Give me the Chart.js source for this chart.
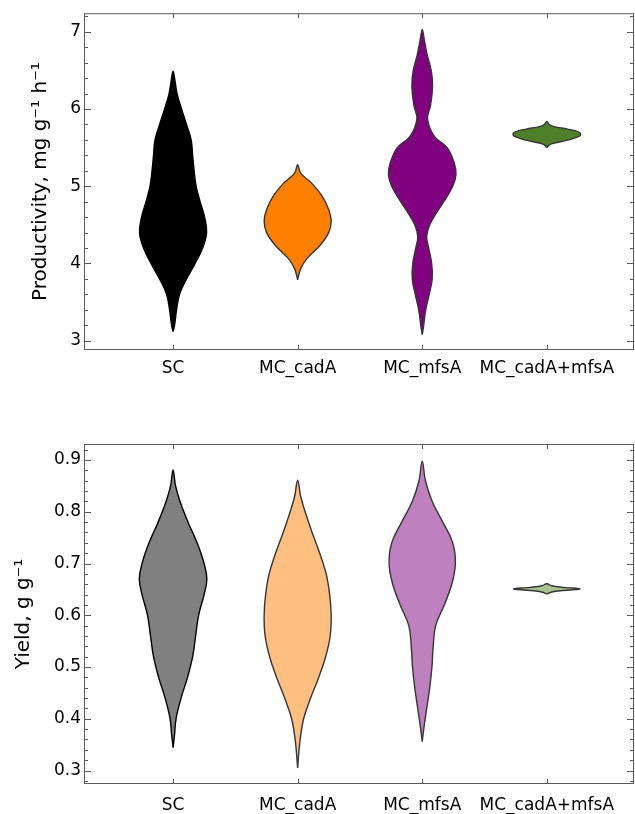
<!DOCTYPE html>
<html>
<head>
<meta charset="utf-8">
<script src="https://cdn.jsdelivr.net/npm/chart.js@4.4.1/dist/chart.umd.min.js"></script>
<style>
  body { margin: 0; background: #fff; }
  .panel { position: absolute; left: 0; width: 635px; }
</style>
</head>
<body>
<div class="panel" style="top:0;height:400px"><canvas id="prodChart"></canvas></div>
<div class="panel" style="top:400px;height:414px"><canvas id="yieldChart"></canvas></div>
<script>
var categories = ["SC", "MC_cadA", "MC_mfsA", "MC_cadA+mfsA"];

// violin outlines: value levels and half widths (category units)
var prodLevels = [
    [3.12, 3.2, 3.4, 3.6, 3.8, 4.0, 4.2, 4.4, 4.6, 4.8, 5.0, 5.2, 5.4, 5.6, 5.8, 6.0, 6.2, 6.4, 6.49],
    [3.79, 3.93, 4.06, 4.23, 4.40, 4.55, 4.70, 4.87, 5.04, 5.17, 5.28],
    [3.08, 3.2, 3.4, 3.6, 3.8, 4.0, 4.2, 4.35, 4.5, 4.65, 4.8, 5.0, 5.15, 5.3, 5.5, 5.65, 5.87, 6.05, 6.3, 6.5, 6.7, 6.9, 7.03],
    [5.50, 5.535, 5.56, 5.59, 5.62, 5.65, 5.67, 5.695, 5.72, 5.75, 5.775, 5.80, 5.84]
];
var prodWidths = [
    [0, 0.012, 0.028, 0.052, 0.108, 0.177, 0.237, 0.269, 0.253, 0.217, 0.185, 0.169, 0.157, 0.145, 0.108, 0.068, 0.032, 0.012, 0],
    [0, 0.024, 0.072, 0.177, 0.249, 0.269, 0.249, 0.197, 0.112, 0.024, 0],
    [0, 0.012, 0.028, 0.056, 0.08, 0.076, 0.052, 0.036, 0.06, 0.112, 0.173, 0.245, 0.271, 0.257, 0.2, 0.096, 0.043, 0.067, 0.083, 0.072, 0.04, 0.016, 0],
    [0, 0.02, 0.06, 0.15, 0.217, 0.262, 0.271, 0.262, 0.225, 0.13, 0.05, 0.02, 0]
];
var yieldLevels = [
    [0.344, 0.37, 0.40, 0.44, 0.48, 0.52, 0.56, 0.60, 0.64, 0.67, 0.70, 0.74, 0.78, 0.82, 0.85, 0.881],
    [0.305, 0.33, 0.36, 0.40, 0.44, 0.48, 0.52, 0.56, 0.60, 0.64, 0.68, 0.72, 0.76, 0.80, 0.83, 0.861],
    [0.356, 0.38, 0.42, 0.46, 0.50, 0.54, 0.58, 0.62, 0.66, 0.70, 0.74, 0.78, 0.82, 0.86, 0.898],
    [0.641, 0.645, 0.648, 0.651, 0.654, 0.657, 0.661]
];
var yieldWidths = [
    [0, 0.012, 0.024, 0.064, 0.116, 0.157, 0.181, 0.205, 0.249, 0.271, 0.249, 0.193, 0.12, 0.056, 0.02, 0],
    [0, 0.008, 0.02, 0.048, 0.104, 0.169, 0.225, 0.261, 0.269, 0.257, 0.229, 0.177, 0.116, 0.06, 0.024, 0],
    [0, 0.012, 0.036, 0.06, 0.078, 0.088, 0.108, 0.177, 0.237, 0.266, 0.245, 0.165, 0.08, 0.026, 0],
    [0, 0.04, 0.13, 0.268, 0.13, 0.04, 0]
];

var prodColors = ["#000000", "#ff8000", "#800080", "#4f7f28"];
var yieldColors = ["#808080", "#ffbf80", "#bf80bf", "#a8c294"];
var edgeColors = ["#000000", "#353535", "#353535", "#353535"];

var fontFamily = "'DejaVu Sans', sans-serif";

// closed outline: right side going up, left side coming back down
function violinPoints(center, levels, widths){
    var pts = [];
    for (var i = 0; i < levels.length; i++) {
        pts.push({x: center + widths[i], y: levels[i]});
    }
    for (var j = levels.length - 2; j >= 0; j--) {
        pts.push({x: center - widths[j], y: levels[j]});
    }
    return pts;
}

function buildDatasets(levels, widths, colors){
    return categories.map(function(name, i){
        return {
            label: name,
            data: violinPoints(i + 1, levels[i], widths[i]),
            showLine: true,
            fill: 'shape',
            backgroundColor: colors[i],
            borderColor: edgeColors[i],
            borderWidth: 1.4,
            pointRadius: 0,
            tension: 0.4
        };
    });
}

// Mathematica-like frame with inward ticks on every side
var framePlugin = {
    id: 'frame',
    afterDatasetsDraw: function(chart){
        var ctx = chart.ctx, a = chart.chartArea;
        var xs = chart.scales.x, ys = chart.scales.y;
        ctx.save();
        ctx.strokeStyle = '#5a5a5a';
        ctx.lineWidth = 1;
        ctx.strokeRect(a.left + 0.5, a.top + 0.5, a.right - a.left - 1, a.bottom - a.top - 1);
        ctx.beginPath();
        ys.ticks.forEach(function(t){
            var y = Math.round(ys.getPixelForValue(t.value)) + 0.5;
            var len = t.label ? 7 : 4;
            ctx.moveTo(a.left, y); ctx.lineTo(a.left + len, y);
            ctx.moveTo(a.right, y); ctx.lineTo(a.right - len, y);
        });
        xs.ticks.forEach(function(t){
            var x = Math.round(xs.getPixelForValue(t.value)) + 0.5;
            ctx.moveTo(x, a.top); ctx.lineTo(x, a.top + 5);
            ctx.moveTo(x, a.bottom); ctx.lineTo(x, a.bottom - 5);
        });
        ctx.stroke();
        ctx.restore();
    }
};

function makeChart(id, cfg){
    var ctx = document.getElementById(id).getContext('2d');
    return new Chart(ctx, {
        type: 'scatter',
        data: { datasets: buildDatasets(cfg.levels, cfg.widths, cfg.colors) },
        plugins: [framePlugin],
        options: {
            animation: false,
            responsive: true,
            maintainAspectRatio: false,
            layout: { padding: { left: 0, right: 1, top: cfg.top, bottom: 0 } },
            plugins: { legend: { display: false }, tooltip: { enabled: false } },
            scales: {
                x: {
                    type: 'linear',
                    min: 0.285,
                    max: 4.70,
                    grid: { display: false, drawTicks: false },
                    border: { display: false },
                    afterBuildTicks: function(s){
                        s.ticks = categories.map(function(c, i){ return {value: i + 1}; });
                    },
                    afterFit: function(s){ s.height = cfg.xHeight; },
                    ticks: {
                        autoSkip: false,
                        maxRotation: 0,
                        padding: cfg.xPad,
                        color: '#000',
                        font: { family: fontFamily, size: 17 },
                        callback: function(v){ return categories[Math.round(v) - 1] || ''; }
                    }
                },
                y: {
                    min: cfg.min,
                    max: cfg.max,
                    grid: { display: false, drawTicks: false },
                    border: { display: false },
                    afterFit: function(s){ s.width = 84; },
                    ticks: {
                        stepSize: cfg.step,
                        includeBounds: false,
                        autoSkip: false,
                        padding: 3,
                        color: '#000',
                        font: { family: fontFamily, size: 17 },
                        callback: cfg.tickLabel
                    },
                    title: {
                        display: true,
                        text: cfg.title,
                        color: '#000',
                        font: { family: fontFamily, size: 20 },
                        padding: { top: cfg.titlePad, bottom: 0 }
                    }
                }
            }
        }
    });
}

makeChart('prodChart', {
    levels: prodLevels, widths: prodWidths, colors: prodColors,
    top: 10, xHeight: 50, xPad: 8,
    min: 2.88, max: 7.24, step: 0.2,
    title: 'Productivity, mg g\u207B\u00B9 h\u207B\u00B9', titlePad: 29,
    tickLabel: function(v){
        return Math.abs(v - Math.round(v)) < 1e-6 ? String(Math.round(v)) : '';
    }
});

makeChart('yieldChart', {
    levels: yieldLevels, widths: yieldWidths, colors: yieldColors,
    top: 44, xHeight: 30, xPad: 11,
    min: 0.274, max: 0.931, step: 0.02,
    title: 'Yield, g g\u207B\u00B9', titlePad: 12,
    tickLabel: function(v){
        var t = v * 10;
        return Math.abs(t - Math.round(t)) < 1e-6 ? v.toFixed(1) : '';
    }
});
</script>
</body>
</html>
